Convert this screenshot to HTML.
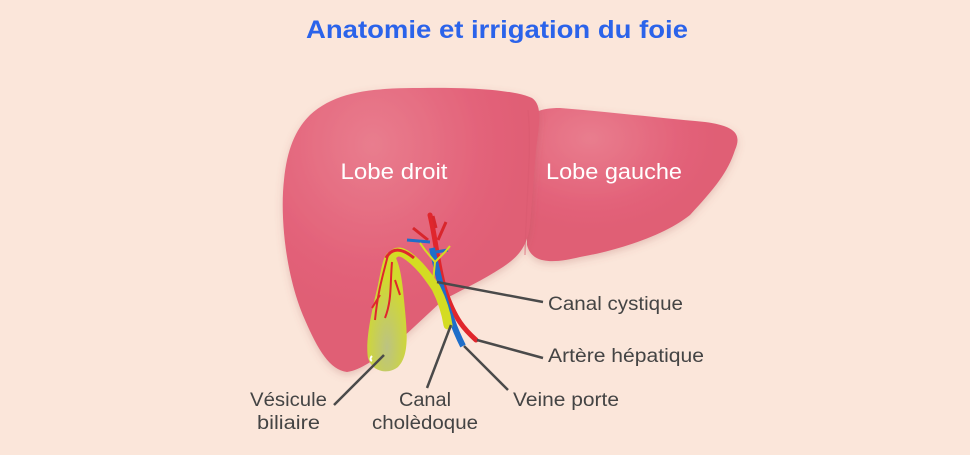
<!DOCTYPE html>
<html><head><meta charset="utf-8"><style>
html,body{margin:0;padding:0;background:#fbe6da;}
svg{display:block;}
text{font-family:"Liberation Sans",sans-serif;}
</style></head><body>
<svg width="970" height="455" viewBox="0 0 970 455" xmlns="http://www.w3.org/2000/svg">
<defs>
<radialGradient id="lg" cx="0.35" cy="0.2" r="0.6">
<stop offset="0" stop-color="#e97d8e"/><stop offset="0.7" stop-color="#e3637a"/><stop offset="1" stop-color="#e05e75"/>
</radialGradient>
<radialGradient id="lg2" cx="0.3" cy="0.2" r="0.6">
<stop offset="0" stop-color="#e97d8e"/><stop offset="0.7" stop-color="#e3637a"/><stop offset="1" stop-color="#e05e75"/>
</radialGradient>
<radialGradient id="gb" cx="0.5" cy="0.8" r="0.6">
<stop offset="0" stop-color="#bcc382"/><stop offset="1" stop-color="#d2da2c"/>
</radialGradient>
<filter id="sh" x="-10%" y="-10%" width="120%" height="120%"><feDropShadow dx="0" dy="3" stdDeviation="4" flood-color="#a05050" flood-opacity="0.25"/></filter>
</defs>
<text x="497" y="38" text-anchor="middle" font-size="25" font-weight="bold" fill="#2b63ea" textLength="382" lengthAdjust="spacingAndGlyphs">Anatomie et irrigation du foie</text>

<!-- left lobe -->
<path filter="url(#sh)" fill="url(#lg2)" d="M527,125 C530,112 540,108 560,108 C610,112 660,118 705,122 C735,126 742,134 735,150 C728,172 715,188 690,215 C665,235 620,250 580,257 C555,263 532,265 527,245 Z"/>
<!-- right lobe -->
<path filter="url(#sh)" fill="url(#lg)" d="M310,115 C335,92 370,88 420,88 C470,87 515,90 532,98 C542,105 540,120 536,150 L530,225 C527,250 515,260 495,272 C475,284 458,292 443,300 L400,340 C380,356 362,370 347,372 C330,370 318,350 305,320 C285,275 280,215 284,180 C287,150 295,130 310,115 Z"/>
<path d="M528,110 C532,150 526,200 525,255" stroke="#d85a6f" stroke-width="1.2" fill="none" opacity="0.6"/>

<!-- vessels -->
<path d="M430,215 C436,240 438,268 445,290 C455,320 465,330 476,340" stroke="#e0262c" stroke-width="5" fill="none" stroke-linecap="round"/>
<path d="M436,228 L433,216 M438,240 L446,222 M428,240 L413,228" stroke="#d8262c" stroke-width="3" fill="none"/>
<path d="M430,242 L407,240 M436,252 L448,250" stroke="#1f6ec9" stroke-width="3" fill="none"/>
<path d="M432,248 C438,275 444,300 452,320 C456,332 460,340 463,346" stroke="#1f6ec9" stroke-width="6" fill="none"/>
<!-- yellow duct -->
<path d="M390,262 C392,252 398,250 405,254 C418,262 428,276 436,288 C442,300 446,312 448,325" stroke="#d4dc22" stroke-width="9" fill="none" stroke-linecap="round"/>
<path d="M433,282 L435,262 M435,262 L425,250 M435,262 L445,252 M425,250 L420,243 M445,252 L450,246" stroke="#d4dc22" stroke-width="2" fill="none"/>
<!-- gallbladder -->
<path fill="url(#gb)" d="M390,252 C398,254 402,275 404,300 C407,330 410,355 398,367 C388,375 372,372 368,358 C365,340 372,310 378,285 C382,265 384,252 390,252 Z"/>
<path d="M388,255 C383,275 378,290 375,320 M392,262 C390,285 392,300 385,318 M380,295 L372,308 M395,280 L400,295" stroke="#e0262c" stroke-width="2" fill="none"/>
<path d="M386,258 C392,247 402,248 414,258" stroke="#e0262c" stroke-width="3" fill="none"/>
<path d="M372,356 C370,358 370,360 372,361" stroke="#fff" stroke-width="2" fill="none"/>

<!-- labels -->
<text x="394" y="179" text-anchor="middle" font-size="22" fill="#fff" textLength="107" lengthAdjust="spacingAndGlyphs">Lobe droit</text>
<text x="614" y="179" text-anchor="middle" font-size="22" fill="#fff" textLength="136" lengthAdjust="spacingAndGlyphs">Lobe gauche</text>

<g stroke="#4a4a4a" stroke-width="2.5" fill="none">
<line x1="437" y1="282" x2="543" y2="302"/>
<line x1="477" y1="340" x2="543" y2="358"/>
<line x1="464" y1="346" x2="508" y2="390"/>
<line x1="451" y1="325" x2="427" y2="388"/>
<line x1="384" y1="355" x2="334" y2="405"/>
</g>
<g font-size="19" fill="#444">
<text x="548" y="310" textLength="135" lengthAdjust="spacingAndGlyphs">Canal cystique</text>
<text x="548" y="362" textLength="156" lengthAdjust="spacingAndGlyphs">Artère hépatique</text>
<text x="513" y="406" textLength="106" lengthAdjust="spacingAndGlyphs">Veine porte</text>
<text x="425" y="406" text-anchor="middle" textLength="52" lengthAdjust="spacingAndGlyphs">Canal</text>
<text x="425" y="429" text-anchor="middle" textLength="106" lengthAdjust="spacingAndGlyphs">cholèdoque</text>
<text x="327" y="406" text-anchor="end" textLength="77" lengthAdjust="spacingAndGlyphs">Vésicule</text>
<text x="320" y="429" text-anchor="end" textLength="63" lengthAdjust="spacingAndGlyphs">biliaire</text>
</g>
</svg>
</body></html>
